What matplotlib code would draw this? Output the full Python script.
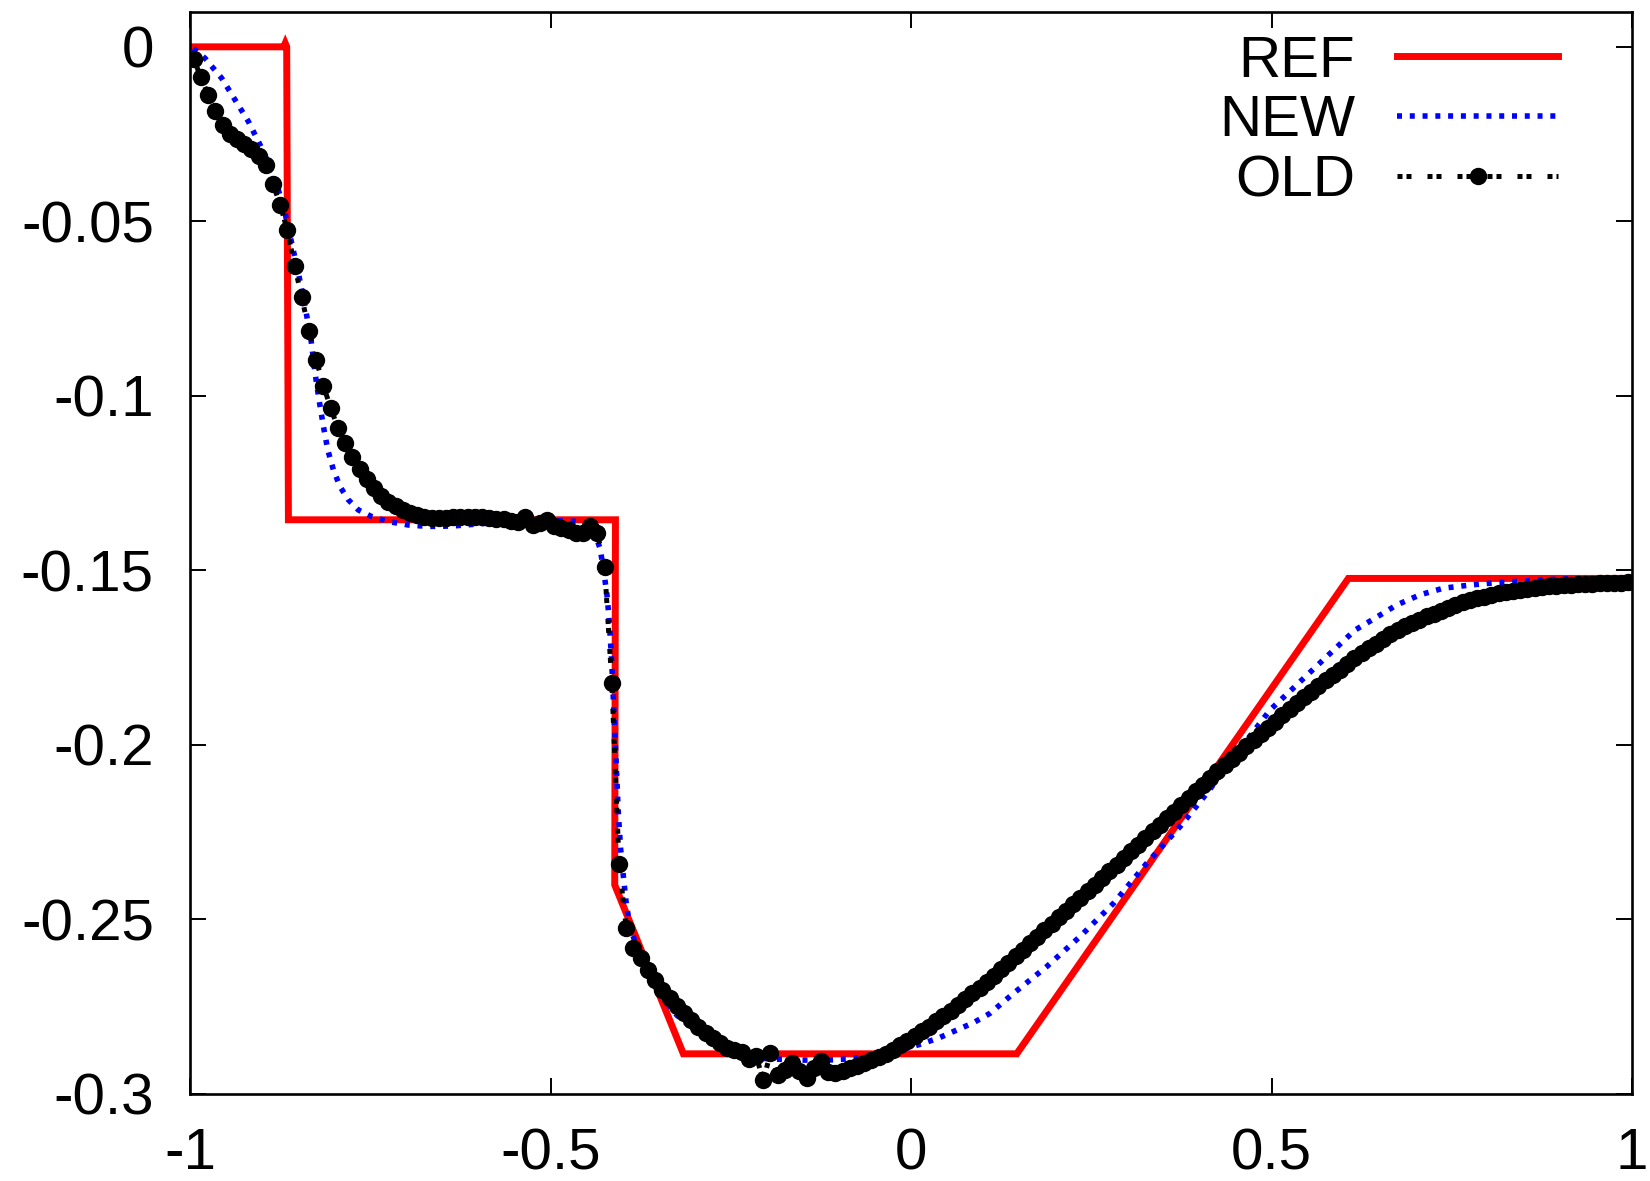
import numpy as np
import matplotlib
matplotlib.use("Agg")
import matplotlib.pyplot as plt

plt.rcParams['font.family'] = ['Liberation Sans', 'DejaVu Sans']
plt.rcParams['axes.unicode_minus'] = False

# reference solution (corner points)
ref_x = [-1.0, -0.870, -0.868, -0.866, -0.8636, -0.4100, -0.4110, -0.3158, 0.1466, 0.6066, 1.0]
ref_y = [0.0, 0.0, 0.0010, 0.0, -0.1355, -0.1355, -0.2401, -0.2885, -0.2885, -0.1523, -0.1523]

# new scheme
new_x = [-0.9954, -0.9792, -0.9561, -0.9376, -0.9191, -0.9029, -0.8913, -0.8775, -0.8682, -0.8590,
         -0.8497, -0.8405, -0.8322, -0.8266, -0.8211, -0.8150, -0.8090, -0.8012, -0.7920, -0.7804,
         -0.7665, -0.7480, -0.7249, -0.6972, -0.6694, -0.6371, -0.6001, -0.5747, -0.5284, -0.4822,
         -0.4591, -0.4406, -0.4313, -0.4258, -0.4212, -0.4184, -0.4152, -0.4129, -0.4106, -0.4083,
         -0.4060, -0.4027, -0.3990, -0.3953, -0.3907, -0.3852, -0.3782, -0.3620, -0.3481, -0.3250,
         -0.3088, -0.2880, -0.2695, -0.2510, -0.2279, -0.1910, -0.1494, -0.1170, -0.0893, -0.0616,
         -0.0338, -0.0061, 0.0170, 0.0402, 0.0633, 0.0864, 0.1095, 0.1419, 0.1882, 0.2344,
         0.2807, 0.3269, 0.3731, 0.4101, 0.4517, 0.4979, 0.5349, 0.5765, 0.6158, 0.6458,
         0.6736, 0.7059, 0.7383, 0.7753, 0.8123, 0.8446, 0.8770, 0.9140, 0.9510, 1.0]
new_y = [-0.0004, -0.0033, -0.0090, -0.0152, -0.0214, -0.0281, -0.0334, -0.0410, -0.0477, -0.0563,
         -0.0649, -0.0744, -0.0840, -0.0935, -0.1012, -0.1088, -0.1155, -0.1212, -0.1260, -0.1298,
         -0.1327, -0.1346, -0.1360, -0.1370, -0.1374, -0.1373, -0.1367, -0.1362, -0.1360, -0.1358,
         -0.1360, -0.1384, -0.1437, -0.1508, -0.1580, -0.1652, -0.1761, -0.1871, -0.1976, -0.2086,
         -0.2196, -0.2301, -0.2377, -0.2449, -0.2511, -0.2549, -0.2597, -0.2673, -0.2712, -0.2774,
         -0.2802, -0.2831, -0.2860, -0.2884, -0.2895, -0.2900, -0.2903, -0.2903, -0.2900, -0.2893,
         -0.2884, -0.2869, -0.2855, -0.2838, -0.2817, -0.2796, -0.2769, -0.2712, -0.2635, -0.2549,
         -0.2454, -0.2339, -0.2234, -0.2139, -0.2024, -0.1900, -0.1828, -0.1747, -0.1671, -0.1634,
         -0.1599, -0.1570, -0.1551, -0.1542, -0.1535, -0.1531, -0.1527, -0.1524, -0.1524, -0.1524]

# old scheme, cell centres
old_x = np.linspace(-0.995, 0.995, 200)
old_y = [-0.0035, -0.0087, -0.0137, -0.0184, -0.0224, -0.0250, -0.0265, -0.0278, -0.0293, -0.0314,
         -0.0338, -0.0393, -0.0453, -0.0526, -0.0628, -0.0718, -0.0814, -0.0897, -0.0971, -0.1035,
         -0.1091, -0.1136, -0.1176, -0.1210, -0.1239, -0.1265, -0.1287, -0.1303, -0.1315, -0.1327,
         -0.1336, -0.1342, -0.1346, -0.1350, -0.1350, -0.1349, -0.1348, -0.1346, -0.1346, -0.1346,
         -0.1348, -0.1350, -0.1352, -0.1354, -0.1358, -0.1360, -0.1346, -0.1370, -0.1363, -0.1355,
         -0.1373, -0.1379, -0.1384, -0.1392, -0.1394, -0.1373, -0.1394, -0.1491, -0.1822, -0.2341,
         -0.2524, -0.2583, -0.2611, -0.2645, -0.2673, -0.2702, -0.2726, -0.2748, -0.2769, -0.2788,
         -0.2807, -0.2824, -0.2841, -0.2855, -0.2867, -0.2874, -0.2879, -0.2900, -0.2891, -0.2960,
         -0.2884, -0.2946, -0.2931, -0.2912, -0.2933, -0.2953, -0.2927, -0.2907, -0.2936, -0.2941,
         -0.2933, -0.2927, -0.2920, -0.2912, -0.2903, -0.2895, -0.2885, -0.2873, -0.2861, -0.2848,
         -0.2835, -0.2821, -0.2807, -0.2792, -0.2777, -0.2762, -0.2746, -0.2729, -0.2712, -0.2696,
         -0.2680, -0.2661, -0.2643, -0.2624, -0.2605, -0.2587, -0.2568, -0.2550, -0.2531, -0.2512,
         -0.2494, -0.2475, -0.2457, -0.2438, -0.2419, -0.2400, -0.2381, -0.2362, -0.2343, -0.2324,
         -0.2305, -0.2286, -0.2267, -0.2248, -0.2229, -0.2210, -0.2191, -0.2172, -0.2152, -0.2133,
         -0.2114, -0.2095, -0.2076, -0.2058, -0.2040, -0.2022, -0.2004, -0.1986, -0.1968, -0.1951,
         -0.1933, -0.1915, -0.1897, -0.1879, -0.1862, -0.1847, -0.1831, -0.1815, -0.1799, -0.1784,
         -0.1768, -0.1752, -0.1737, -0.1723, -0.1710, -0.1696, -0.1682, -0.1670, -0.1660, -0.1651,
         -0.1642, -0.1632, -0.1624, -0.1615, -0.1607, -0.1599, -0.1591, -0.1585, -0.1580, -0.1575,
         -0.1570, -0.1565, -0.1562, -0.1558, -0.1555, -0.1552, -0.1550, -0.1548, -0.1546, -0.1544,
         -0.1542, -0.1541, -0.1540, -0.1539, -0.1538, -0.1537, -0.1536, -0.1535, -0.1535, -0.1534]

xticks = [-1, -0.5, 0, 0.5, 1]
xlabels = ['-1', '-0.5', '0', '0.5', '1']
yticks = [0, -0.05, -0.1, -0.15, -0.2, -0.25, -0.3]
ylabels = ['0', '-0.05', '-0.1', '-0.15', '-0.2', '-0.25', '-0.3']

fig = plt.figure(figsize=(16.5, 11.81), dpi=100)
ax = fig.add_axes([0.1152, 0.0737, 0.8739, 0.9162])

ax.plot(ref_x, ref_y, color='#ff0000', lw=5, label='REF', solid_joinstyle='miter')
ax.plot(new_x, new_y, color='#0000ff', lw=4, ls=(0, (0.9, 1.4)), label='NEW')
ax.plot(old_x, old_y, color='black', lw=3.6, ls=(0, (1, 0.8, 1, 3.2)),
        marker='o', markersize=11.5, label='OLD')

ax.set_xlim(-1, 1)
ax.set_ylim(-0.3, 0.01)
ax.set_xticks(xticks)
ax.set_xticklabels(xlabels)
ax.set_yticks(yticks)
ax.set_yticklabels(ylabels)
ax.tick_params(direction='in', length=11.5, width=1.4, labelsize=42,
               top=True, right=True)
ax.tick_params(axis='x', pad=24)
ax.tick_params(axis='y', pad=26)
for s in ax.spines.values():
    s.set_linewidth(1.9)

leg = ax.legend(loc='upper right', bbox_to_anchor=(0.9487, 0.979), frameon=False,
                fontsize=42, markerfirst=False, numpoints=1, handlelength=2.76,
                handletextpad=0.72, labelspacing=0.1, borderaxespad=0, borderpad=0)

plt.savefig('out.png', dpi=100)
